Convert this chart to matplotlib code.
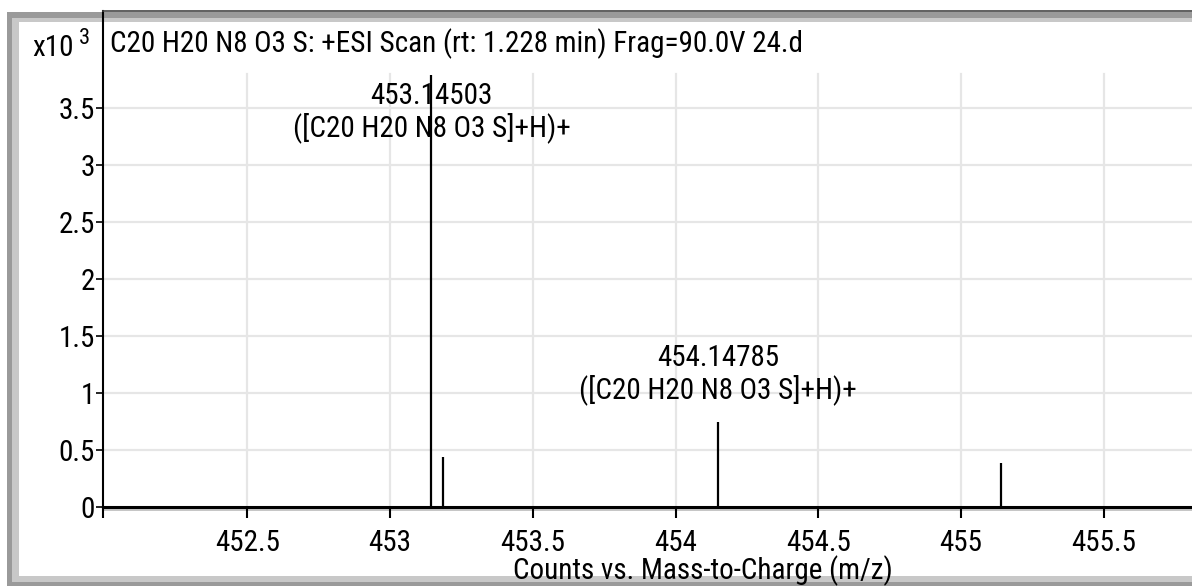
import matplotlib
matplotlib.use("Agg")
import matplotlib.pyplot as plt
from matplotlib.patches import Rectangle
from matplotlib.ticker import FuncFormatter

# ---- spectrum ----
MZ = [453.14503, 453.185, 454.14785, 455.14]
COUNTS = [3790, 440, 745, 385]          # raw counts
PEAK_LABELS = ["453.14503\n([C20 H20 N8 O3 S]+H)+", None,
               "454.14785\n([C20 H20 N8 O3 S]+H)+", None]
XTICKS = [452.5, 453, 453.5, 454, 454.5, 455, 455.5]
YTICKS = [0, 0.5, 1, 1.5, 2, 2.5, 3, 3.5]
TITLE = "C20 H20 N8 O3 S: +ESI Scan (rt: 1.228 min) Frag=90.0V 24.d"
XLABEL = "Counts vs. Mass-to-Charge (m/z)"

plt.rcParams["font.family"] = ["Roboto Condensed", "Liberation Sans", "DejaVu Sans"]
FS = 21

fig = plt.figure(figsize=(11.92, 5.88), dpi=100)

# bevelled grey frame of the screenshot window
for (x0, y0, w, h, c) in [(0.006, 0.004, 0.994, 0.975, "#9a9a9a"),
                          (0.010, 0.010, 0.990, 0.960, "#c8c8c8"),
                          (0.016, 0.020, 0.984, 0.942, "white")]:
    fig.patches.append(Rectangle((x0, y0), w, h, transform=fig.transFigure,
                                 facecolor=c, edgecolor="none", zorder=-10))

ax = fig.add_axes([0.0864, 0.1378, 0.9136 + 0.01, 0.8435])
ax.set_zorder(2)
ax.patch.set_alpha(0)

counts_k = [c / 1000 for c in COUNTS]
ymax = 4.35
ax.set_xlim(451.995, 455.85)
ax.set_ylim(0, ymax)

# light grid, vertical lines stop below the title band
grid_top = 3.8
for xt in XTICKS:
    ax.axvline(xt, ymin=0, ymax=grid_top / ymax, color="#e6e6e6", lw=1.6, zorder=0)
for yt in YTICKS[1:]:
    ax.axhline(yt, color="#e6e6e6", lw=1.6, zorder=0)

ax.vlines(MZ, 0, counts_k, color="black", lw=1.6, zorder=3)

for x, h, lab in zip(MZ, counts_k, PEAK_LABELS):
    if lab is None:
        continue
    yl = min(h + 0.42, 3.46)
    ax.text(x, yl, lab, ha="center", va="center", fontsize=FS,
            linespacing=1.1, zorder=4)

ax.set_xticks(XTICKS)
ax.set_xticks([451.995], minor=True)
ax.set_yticks(YTICKS)
ax.xaxis.set_major_formatter(FuncFormatter(lambda v, p: f"{v:g}"))
ax.yaxis.set_major_formatter(FuncFormatter(lambda v, p: f"{v:g}"))
ax.tick_params(axis="x", which="both", direction="out", length=8, width=1.5,
               labelsize=FS, pad=8)
ax.tick_params(axis="y", direction="out", length=5, width=1.2, labelsize=FS, pad=1)

ax.spines["right"].set_visible(False)
ax.spines["bottom"].set_linewidth(2.2)
ax.spines["left"].set_linewidth(1.5)
ax.spines["top"].set_linewidth(1.2)
ax.spines["top"].set_color("#444444")
# faint shadow under the x axis line
ax.plot([0, 1], [-0.007, -0.007], color="#bbbbbb", lw=1.2,
        transform=ax.transAxes, clip_on=False, zorder=1)

ax.set_xlabel(XLABEL, fontsize=FS)
ax.xaxis.set_label_coords(0.545, -0.097)
ax.xaxis.label.set_va("top")

ax.text(0.006, 0.935, TITLE, transform=ax.transAxes, ha="left", va="center",
        fontsize=FS)
fig.text(0.027, 0.919, "x10", ha="left", va="center", fontsize=FS)
fig.text(0.0665, 0.935, "3", ha="left", va="center", fontsize=FS - 5)

fig.savefig("out.png", dpi=100)
